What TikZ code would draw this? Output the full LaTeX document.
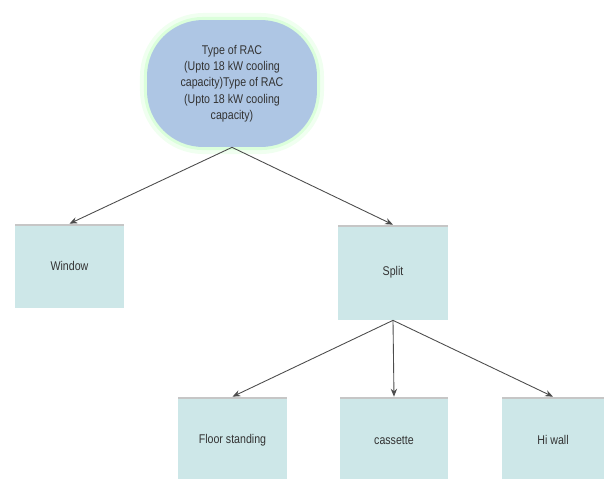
\documentclass[tikz,border=0pt]{standalone}
\usepackage{fontspec}
\setmainfont{Liberation Sans}[FakeStretch=0.84]
\usepackage{tikz}
\usetikzlibrary{arrows.meta}
\definecolor{racblue}{HTML}{AEC6E4}
\definecolor{boxfill}{HTML}{CDE7E8}
\tikzset{>={Stealth[length=4.5pt,width=3.6pt]}}
\tikzset{
  racnode/.style={fill=racblue, rounded corners=32pt, minimum width=3.4cm, minimum height=2.54cm,
    align=center, inner sep=0pt, font=\fontsize{7.2}{9.3}\selectfont, text=black!80,
    preaction={draw=green!6, line width=8pt}, preaction={draw=green!14, line width=3.5pt}},
  typebox/.style={fill=boxfill, inner sep=0pt, minimum height=1.7cm,
    font=\fontsize{7.2}{8}\selectfont, text=black!80,
    path picture={\draw[gray!45, line width=2.4pt] (path picture bounding box.north west) -- (path picture bounding box.north east);}},
  link/.style={->, black!70, line width=0.5pt}
}

\begin{document}
\begin{tikzpicture}[x=0.02cm, y=-0.02cm]
  \useasboundingbox (0,0) rectangle (606,478);
  \clip (0,0) rectangle (606,478);
  % top of the tree
  \node[racnode] (rac) at (232,83.5) {Type of RAC\\(Upto 18 kW cooling\\capacity)Type of RAC\\(Upto 18 kW cooling\\capacity)};
  % first level
  \node[typebox, minimum width=2.18cm, minimum height=1.68cm] (window) at (69.5,266) {Window};
  \node[typebox, minimum width=2.2cm, minimum height=1.9cm] (split) at (393,272.5) {Split};
  % kinds of split
  \node[typebox, minimum width=2.18cm, minimum height=1.72cm] (floor) at (232.5,440) {Floor standing};
  \node[typebox, minimum width=2.16cm, minimum height=1.72cm] (cassette) at (394,440) {cassette};
  \node[typebox, minimum width=2.04cm, minimum height=1.72cm] (hiwall) at (553,440) {Hi wall};
  \draw[link] (rac.south) -- (window.north);
  \draw[link] (rac.south) -- (split.north);
  \draw[link] (split.south) -- (floor.north);
  \draw[link] (split.south) -- (cassette.north);
  \draw[link] (split.south) -- (hiwall.north);
\end{tikzpicture}
\end{document}
